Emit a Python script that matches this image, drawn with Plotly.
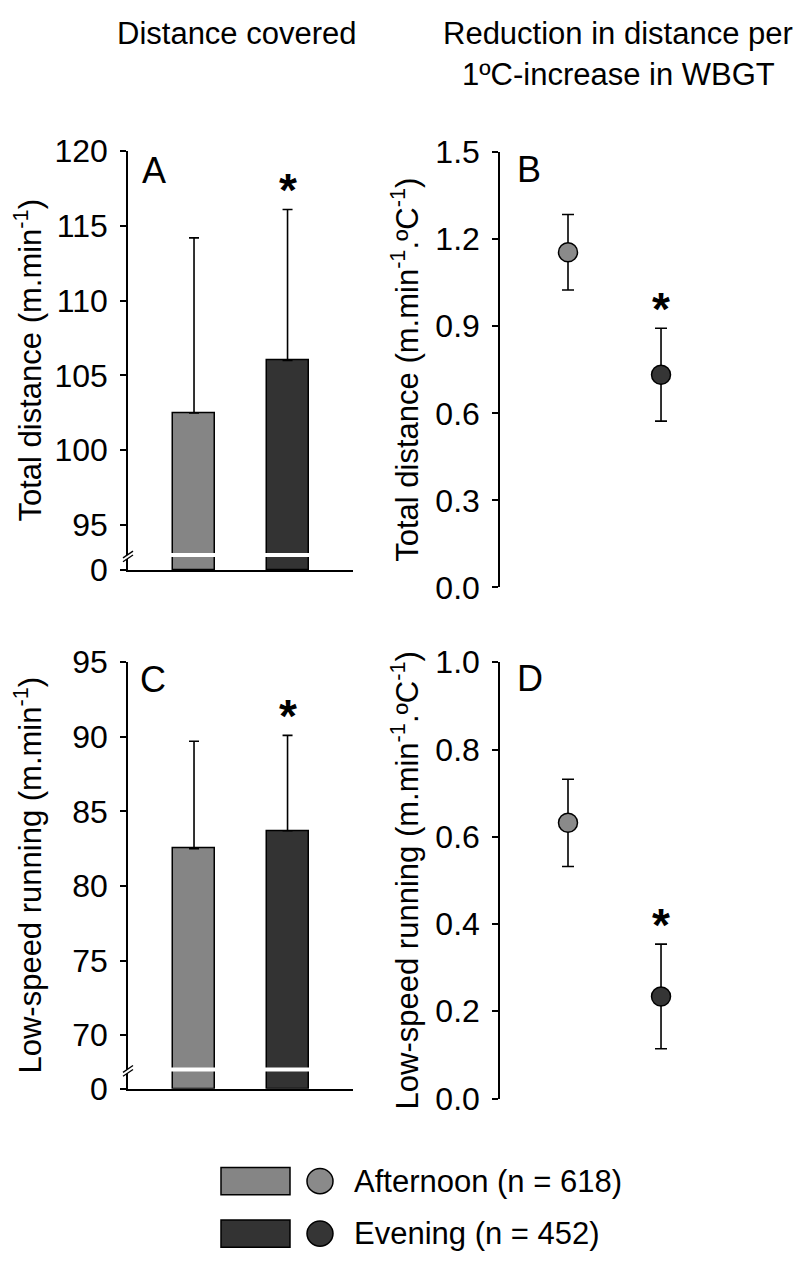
import plotly.graph_objects as go

W, H = 800, 1273
FONT = "Liberation Sans, Arial, sans-serif"

# ---------------- data ----------------
groups = ["Afternoon (n = 618)", "Evening (n = 452)"]
bar_colors = ["#858585", "#333333"]
point_colors = ["#8a8a8a", "#353535"]
significant = [False, True]

# A: total distance (m/min), mean and SD
total_mean = [102.5, 106.0]
total_sd = [11.7, 10.1]
# B: reduction in total distance per 1 degC WBGT
total_slope = [1.155, 0.733]
total_slope_err = [0.13, 0.16]
# C: low-speed running (m/min)
lsr_mean = [82.5, 83.7]
lsr_sd = [7.2, 6.4]
# D: reduction in low-speed running per 1 degC WBGT
lsr_slope = [0.632, 0.234]
lsr_slope_err = [0.10, 0.12]

# broken axis definitions (value shown as "0" at the axis bottom)
A_ticks = [95, 100, 105, 110, 115, 120]
A_bottom, A_break = 92.0, 93.0
C_ticks = [70, 75, 80, 85, 90, 95]
C_bottom, C_break = 66.4, 67.7
B_ticks = [0.0, 0.3, 0.6, 0.9, 1.2, 1.5]
D_ticks = [0.0, 0.2, 0.4, 0.6, 0.8, 1.0]

xpos = [0, 1]

# ---------------- layout geometry (pixels) ----------------
def px(x):
    return x / W

def py(y):
    return 1 - y / H

dom = {
    "A": dict(x=(128, 353), y=(137, 568)),
    "B": dict(x=(500, 740), y=(138, 586)),
    "C": dict(x=(128, 353), y=(663, 1102)),
    "D": dict(x=(500, 740), y=(663, 1112)),
}
xr_bar = [-0.706, 1.70]
xr_pt = [-0.731, 1.849]

fig = go.Figure()

axis_common = dict(
    showline=True, linecolor="black", linewidth=1.5, mirror=False,
    ticks="outside", ticklen=6, tickwidth=1.5, tickcolor="black",
    showgrid=False, zeroline=False,
    tickfont=dict(family=FONT, size=32, color="black"),
    ticklabelstandoff=6,
)

STAR_FONT = dict(family=FONT, size=46, color="black", weight="bold")


def bar_panel(idx, means, sds, bottom, ticks, brk):
    xa = "x" if idx == 1 else f"x{idx}"
    ya = "y" if idx == 1 else f"y{idx}"
    fig.add_trace(go.Bar(
        x=xpos, y=[m - bottom for m in means], base=bottom, width=0.45,
        marker=dict(color=bar_colors, line=dict(color="black", width=1.5)),
        xaxis=xa, yaxis=ya, hoverinfo="skip"))
    fig.add_trace(go.Scatter(
        x=xpos, y=means, mode="markers", marker=dict(size=1, opacity=0),
        error_y=dict(type="data", symmetric=False, array=sds,
                     arrayminus=[0] * len(sds), color="black",
                     thickness=1.6, width=5),
        xaxis=xa, yaxis=ya, hoverinfo="skip"))
    fig.add_shape(type="line", xref=xa, yref=ya, x0=-0.5, x1=1.5,
                  y0=brk, y1=brk, line=dict(color="white", width=4),
                  layer="above")
    for i, s in enumerate(significant):
        if s:
            fig.add_annotation(x=xpos[i], y=means[i] + sds[i], xref=xa, yref=ya,
                               text="*", showarrow=False, yanchor="middle",
                               yshift=19, font=STAR_FONT)


def point_panel(idx, vals, errs):
    xa = f"x{idx}"
    ya = f"y{idx}"
    fig.add_trace(go.Scatter(
        x=xpos, y=vals, mode="markers",
        marker=dict(size=19, color=point_colors,
                    line=dict(color="black", width=1.5)),
        error_y=dict(type="data", array=errs, color="black",
                     thickness=1.6, width=6),
        xaxis=xa, yaxis=ya, hoverinfo="skip"))
    for i, s in enumerate(significant):
        if s:
            fig.add_annotation(x=xpos[i], y=vals[i] + errs[i], xref=xa, yref=ya,
                               text="*", showarrow=False, yanchor="middle",
                               yshift=19, font=STAR_FONT)


bar_panel(1, total_mean, total_sd, A_bottom, A_ticks, A_break)
point_panel(2, total_slope, total_slope_err)
bar_panel(3, lsr_mean, lsr_sd, C_bottom, C_ticks, C_break)
point_panel(4, lsr_slope, lsr_slope_err)

layout = dict(
    width=W, height=H, margin=dict(l=0, r=0, t=0, b=0),
    paper_bgcolor="white", plot_bgcolor="white", showlegend=False,
    bargap=0,
)

layout["xaxis"] = dict(domain=[px(dom["A"]["x"][0]), px(dom["A"]["x"][1])],
                       range=xr_bar, showline=True, linecolor="black",
                       linewidth=1.5, showticklabels=False, ticks="",
                       showgrid=False, zeroline=False, anchor="y",
                       fixedrange=True)
layout["yaxis"] = dict(axis_common, domain=[py(dom["A"]["y"][1]), py(dom["A"]["y"][0])],
                       range=[A_bottom, A_ticks[-1]],
                       tickvals=[A_bottom] + A_ticks,
                       ticktext=["0"] + [str(t) for t in A_ticks], anchor="x")
layout["xaxis2"] = dict(domain=[px(dom["B"]["x"][0]), px(dom["B"]["x"][1])],
                        range=xr_pt, visible=False, anchor="y2")
layout["yaxis2"] = dict(axis_common, domain=[py(dom["B"]["y"][1]), py(dom["B"]["y"][0])],
                        range=[B_ticks[0], B_ticks[-1]], tickvals=B_ticks,
                        ticktext=[f"{t:.1f}" for t in B_ticks], anchor="x2")
layout["xaxis3"] = dict(layout["xaxis"], anchor="y3",
                        domain=[px(dom["C"]["x"][0]), px(dom["C"]["x"][1])])
layout["yaxis3"] = dict(axis_common, domain=[py(dom["C"]["y"][1]), py(dom["C"]["y"][0])],
                        range=[C_bottom, C_ticks[-1]],
                        tickvals=[C_bottom] + C_ticks,
                        ticktext=["0"] + [str(t) for t in C_ticks], anchor="x3")
layout["xaxis4"] = dict(domain=[px(dom["D"]["x"][0]), px(dom["D"]["x"][1])],
                        range=xr_pt, visible=False, anchor="y4")
layout["yaxis4"] = dict(axis_common, domain=[py(dom["D"]["y"][1]), py(dom["D"]["y"][0])],
                        range=[D_ticks[0], D_ticks[-1]], tickvals=D_ticks,
                        ticktext=[f"{t:.1f}" for t in D_ticks], anchor="x4")
fig.update_layout(**layout)


def break_marks(panel, bottom, top, brk):
    y0p, y1p = dom[panel]["y"]
    ypix = y1p - (brk - bottom) / (top - bottom) * (y1p - y0p)
    ax = dom[panel]["x"][0]
    path = (f"M {px(ax-5)},{py(ypix+3)} L {px(ax+5)},{py(ypix-4)} "
            f"L {px(ax+5)},{py(ypix)} L {px(ax-5)},{py(ypix+7)} Z")
    fig.add_shape(type="path", xref="paper", yref="paper", path=path,
                  fillcolor="white", line=dict(width=0), layer="above")
    for off in (0, 4):
        fig.add_shape(type="line", xref="paper", yref="paper",
                      x0=px(ax - 5), y0=py(ypix + 3 + off),
                      x1=px(ax + 5), y1=py(ypix - 4 + off),
                      line=dict(color="black", width=1.3), layer="above")


break_marks("A", A_bottom, A_ticks[-1], A_break)
break_marks("C", C_bottom, C_ticks[-1], C_break)

for letter, (x, y) in {"A": (140, 157), "B": (515, 156),
                       "C": (138, 681), "D": (515, 680)}.items():
    fig.add_annotation(x=px(x), y=py(y), xref="paper", yref="paper",
                       text=letter, showarrow=False, xanchor="left",
                       yanchor="middle",
                       font=dict(family=FONT, size=36, color="black"))

ytitles = {
    "A": "Total distance (m.min<sup>-1</sup>)",
    "B": "Total distance (m.min<sup>-1</sup>.ºC<sup>-1</sup>)",
    "C": "Low-speed running (m.min<sup>-1</sup>)",
    "D": "Low-speed running (m.min<sup>-1</sup>.ºC<sup>-1</sup>)",
}
for p, t in ytitles.items():
    xc = 28 if p in ("A", "C") else 405
    yc = sum(dom[p]["y"]) / 2
    fig.add_annotation(x=px(xc), y=py(yc), xref="paper", yref="paper",
                       text=t, textangle=-90, showarrow=False,
                       xanchor="center", yanchor="middle",
                       font=dict(family=FONT, size=31, color="black"))

headings = [("Distance covered", 237, 16),
            ("Reduction in distance per", 618, 16),
            ("1ºC-increase in WBGT", 618, 58)]
for txt, x, y in headings:
    fig.add_annotation(x=px(x), y=py(y), xref="paper", yref="paper",
                       text=txt, showarrow=False,
                       xanchor="center", yanchor="middle",
                       font=dict(family=FONT, size=31, color="black"))

leg_y = [1197, 1251]
for i, g in enumerate(groups):
    yc = leg_y[i]
    fig.add_shape(type="rect", xref="paper", yref="paper",
                  x0=px(221), x1=px(290), y0=py(yc - 14), y1=py(yc + 14),
                  fillcolor=bar_colors[i], line=dict(color="black", width=1.5))
    fig.add_shape(type="circle", xref="paper", yref="paper",
                  x0=px(307), x1=px(333), y0=py(yc - 13), y1=py(yc + 13),
                  fillcolor=point_colors[i], line=dict(color="black", width=1.5))
    fig.add_annotation(x=px(352), y=py(yc), xref="paper", yref="paper",
                       text=g, showarrow=False, xanchor="left",
                       yanchor="middle",
                       font=dict(family=FONT, size=31, color="black"))

fig.write_html("out.html")
